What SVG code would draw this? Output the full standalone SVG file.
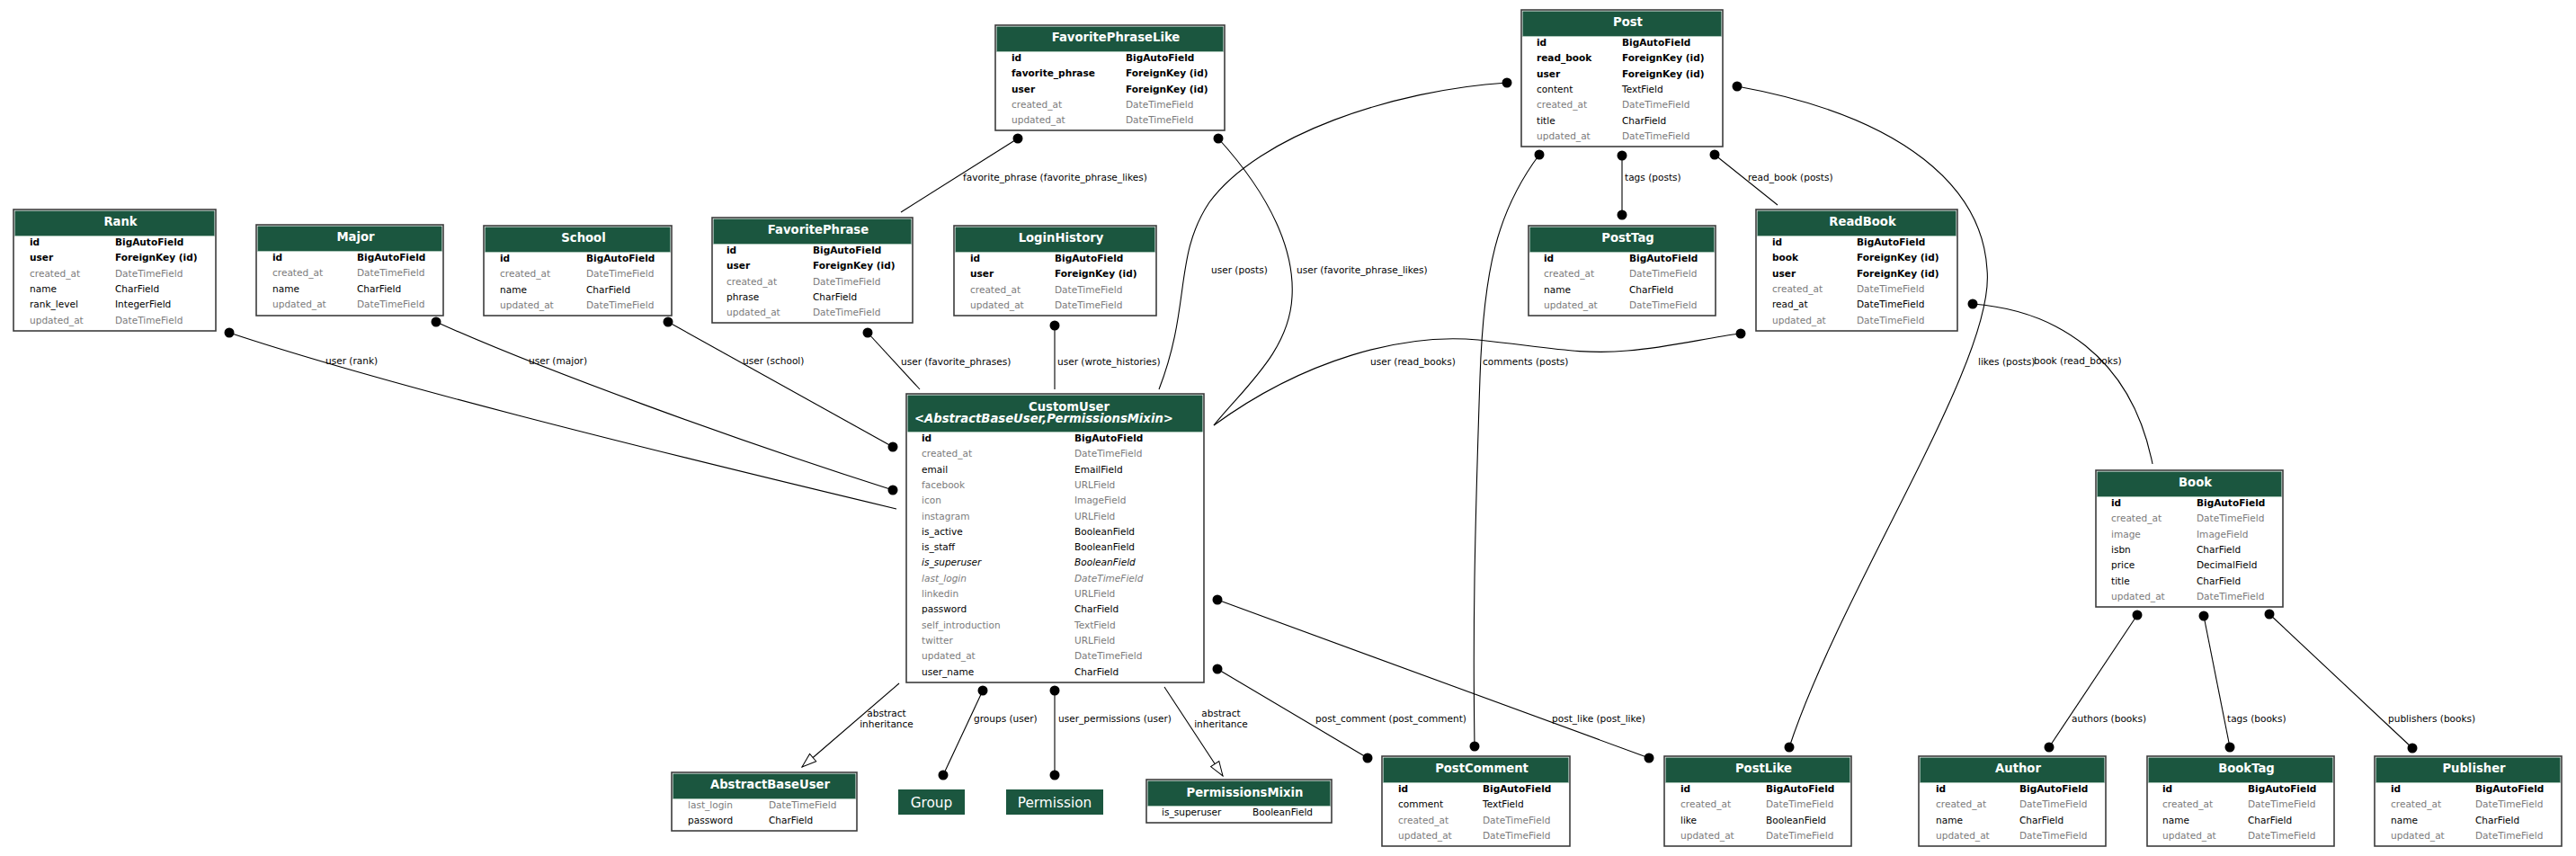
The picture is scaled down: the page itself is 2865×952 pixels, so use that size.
<svg xmlns="http://www.w3.org/2000/svg" width="2865" height="952" viewBox="0 0 2865 952">
<style>
text{font-family:"DejaVu Sans","Liberation Sans",sans-serif}
.t{font-size:13.2px;font-weight:bold;fill:#fff;text-anchor:middle}
.st{font-size:13.2px;font-weight:bold;font-style:italic;fill:#fff}
.r{font-size:10.56px;fill:#000}
.b{font-weight:bold}
.g{fill:#7b7b7b}
.i{font-style:italic}
.l{font-size:10.56px;fill:#000}
.lc{font-size:10.56px;fill:#000;text-anchor:middle}
.bx{fill:#fff;stroke:#3c3c3c;stroke-width:1.6}
.hd{fill:#1b563f}
.sep{stroke:#a9c4b6;stroke-width:1}
.pt{font-size:15.3px;fill:#fff;text-anchor:middle}
.e{fill:none;stroke:#000;stroke-width:1.1}
.m2{marker-start:url(#dot);marker-end:url(#dot)}
.fk{marker-start:url(#dot)}
.inh{marker-end:url(#tri)}
</style>
<defs>
<marker id="dot" viewBox="-6 -6 12 12" refX="0" refY="0" markerWidth="12" markerHeight="12" markerUnits="userSpaceOnUse"><circle r="5.5" fill="#000"/></marker>
<marker id="tri" viewBox="-1 -7 19 14" refX="16" refY="0" markerWidth="19" markerHeight="14" markerUnits="userSpaceOnUse" orient="auto"><path d="M0,-5.5 L16,0 L0,5.5 Z" fill="#fff" stroke="#000" stroke-width="1"/></marker>
</defs>
<rect width="2865" height="952" fill="#fff"/>

<g id="connectors">
<path class="e fk" d="M255,370 C420,425 700,495 997,566"/>
<path class="e m2" d="M485,358 C600,410 820,490 993,545"/>
<path class="e m2" d="M743,358 L993,497"/>
<path class="e fk" d="M965,370 L1023,433"/>
<path class="e fk" d="M1173,362 L1173,433"/>
<path class="e fk" d="M1676,92 C1550,100 1400,150 1345,225 C1305,285 1325,340 1289,433"/>
<path class="e fk" d="M1355,154 C1415,220 1440,280 1437,330 C1434,390 1385,430 1350,473"/>
<path class="e fk" d="M1132,154 L1002,236"/>
<path class="e m2" d="M1804,173 L1804,239"/>
<path class="e fk" d="M1907,172 L1977,228"/>
<path class="e fk" d="M1936,371 C1900,375 1860,386 1810,390 C1760,395 1720,386 1644,378 C1560,370 1450,400 1350,473"/>
<path class="e m2" d="M1712,172 C1665,235 1650,300 1646,420 C1640,600 1638,700 1640,830"/>
<path class="e m2" d="M1932,96 C2120,130 2205,210 2210,300 C2220,400 2050,650 1990,831"/>
<path class="e fk" d="M2194,338 C2285,345 2370,395 2394,516"/>
<path class="e m2" d="M2377,684 L2279,831"/>
<path class="e m2" d="M2451,685 L2480,831"/>
<path class="e m2" d="M2524,683 L2683,832"/>
<path class="e m2" d="M1354,744 L1521,843"/>
<path class="e m2" d="M1354,667 L1834,843"/>
<path class="e m2" d="M1093,768 L1049,862"/>
<path class="e m2" d="M1173,768 L1173,862"/>
<path class="e inh" d="M1000,760 L892,853"/>
<path class="e inh" d="M1295,764 L1360,863"/>
<text class="l" x="362" y="405">user (rank)</text>
<text class="l" x="588" y="405">user (major)</text>
<text class="l" x="826" y="405">user (school)</text>
<text class="l" x="1002" y="406">user (favorite_phrases)</text>
<text class="l" x="1176" y="406">user (wrote_histories)</text>
<text class="l" x="1347" y="304">user (posts)</text>
<text class="l" x="1442" y="304">user (favorite_phrase_likes)</text>
<text class="l" x="1071" y="201">favorite_phrase (favorite_phrase_likes)</text>
<text class="l" x="1807" y="201">tags (posts)</text>
<text class="l" x="1944" y="201">read_book (posts)</text>
<text class="l" x="1524" y="406">user (read_books)</text>
<text class="l" x="1649" y="406">comments (posts)</text>
<text class="l" x="2200" y="406">likes (posts)</text>
<text class="l" x="2262" y="405">book (read_books)</text>
<text class="lc" x="986" y="797">abstract</text>
<text class="lc" x="986" y="809">inheritance</text>
<text class="l" x="1083" y="803">groups (user)</text>
<text class="l" x="1177" y="803">user_permissions (user)</text>
<text class="lc" x="1358" y="797">abstract</text>
<text class="lc" x="1358" y="809">inheritance</text>
<text class="l" x="1463" y="803">post_comment (post_comment)</text>
<text class="l" x="1726" y="803">post_like (post_like)</text>
<text class="l" x="2304" y="803">authors (books)</text>
<text class="l" x="2477" y="803">tags (books)</text>
<text class="l" x="2656" y="803">publishers (books)</text>
</g>

<g id="Rank">
<rect class="bx" x="15" y="233" width="225" height="135"/>
<rect class="hd" x="16.5" y="234.5" width="222" height="28"/>
<line class="sep" x1="16.5" y1="262.5" x2="238.5" y2="262.5"/>
<text class="t" x="134" y="251">Rank</text>
<text class="r b" x="33" y="273">id</text><text class="r b" x="128" y="273">BigAutoField</text>
<text class="r b" x="33" y="290.3">user</text><text class="r b" x="128" y="290.3">ForeignKey (id)</text>
<text class="r g" x="33" y="307.6">created_at</text><text class="r g" x="128" y="307.6">DateTimeField</text>
<text class="r" x="33" y="324.9">name</text><text class="r" x="128" y="324.9">CharField</text>
<text class="r" x="33" y="342.2">rank_level</text><text class="r" x="128" y="342.2">IntegerField</text>
<text class="r g" x="33" y="359.5">updated_at</text><text class="r g" x="128" y="359.5">DateTimeField</text>
</g>

<g id="Major">
<rect class="bx" x="285" y="250" width="208" height="101"/>
<rect class="hd" x="286.5" y="251.5" width="205" height="28"/>
<line class="sep" x1="286.5" y1="279.5" x2="491.5" y2="279.5"/>
<text class="t" x="395.5" y="268">Major</text>
<text class="r b" x="303" y="290">id</text><text class="r b" x="397" y="290">BigAutoField</text>
<text class="r g" x="303" y="307.3">created_at</text><text class="r g" x="397" y="307.3">DateTimeField</text>
<text class="r" x="303" y="324.6">name</text><text class="r" x="397" y="324.6">CharField</text>
<text class="r g" x="303" y="341.9">updated_at</text><text class="r g" x="397" y="341.9">DateTimeField</text>
</g>

<g id="School">
<rect class="bx" x="538" y="251" width="209" height="100"/>
<rect class="hd" x="539.5" y="252.5" width="206" height="28"/>
<line class="sep" x1="539.5" y1="280.5" x2="745.5" y2="280.5"/>
<text class="t" x="649" y="269">School</text>
<text class="r b" x="556" y="291">id</text><text class="r b" x="652" y="291">BigAutoField</text>
<text class="r g" x="556" y="308.3">created_at</text><text class="r g" x="652" y="308.3">DateTimeField</text>
<text class="r" x="556" y="325.6">name</text><text class="r" x="652" y="325.6">CharField</text>
<text class="r g" x="556" y="342.9">updated_at</text><text class="r g" x="652" y="342.9">DateTimeField</text>
</g>

<g id="FavoritePhrase">
<rect class="bx" x="792" y="242" width="223" height="117"/>
<rect class="hd" x="793.5" y="243.5" width="220" height="28"/>
<line class="sep" x1="793.5" y1="271.5" x2="1013.5" y2="271.5"/>
<text class="t" x="910" y="260">FavoritePhrase</text>
<text class="r b" x="808" y="282">id</text><text class="r b" x="904" y="282">BigAutoField</text>
<text class="r b" x="808" y="299.3">user</text><text class="r b" x="904" y="299.3">ForeignKey (id)</text>
<text class="r g" x="808" y="316.6">created_at</text><text class="r g" x="904" y="316.6">DateTimeField</text>
<text class="r" x="808" y="333.9">phrase</text><text class="r" x="904" y="333.9">CharField</text>
<text class="r g" x="808" y="351.2">updated_at</text><text class="r g" x="904" y="351.2">DateTimeField</text>
</g>

<g id="FavoritePhraseLike">
<rect class="bx" x="1107" y="28" width="255" height="117"/>
<rect class="hd" x="1108.5" y="29.5" width="252" height="28"/>
<line class="sep" x1="1108.5" y1="57.5" x2="1360.5" y2="57.5"/>
<text class="t" x="1241" y="46">FavoritePhraseLike</text>
<text class="r b" x="1125" y="68">id</text><text class="r b" x="1252" y="68">BigAutoField</text>
<text class="r b" x="1125" y="85.3">favorite_phrase</text><text class="r b" x="1252" y="85.3">ForeignKey (id)</text>
<text class="r b" x="1125" y="102.6">user</text><text class="r b" x="1252" y="102.6">ForeignKey (id)</text>
<text class="r g" x="1125" y="119.9">created_at</text><text class="r g" x="1252" y="119.9">DateTimeField</text>
<text class="r g" x="1125" y="137.2">updated_at</text><text class="r g" x="1252" y="137.2">DateTimeField</text>
</g>

<g id="LoginHistory">
<rect class="bx" x="1061" y="251" width="225" height="100"/>
<rect class="hd" x="1062.5" y="252.5" width="222" height="28"/>
<line class="sep" x1="1062.5" y1="280.5" x2="1284.5" y2="280.5"/>
<text class="t" x="1180" y="269">LoginHistory</text>
<text class="r b" x="1079" y="291">id</text><text class="r b" x="1173" y="291">BigAutoField</text>
<text class="r b" x="1079" y="308.3">user</text><text class="r b" x="1173" y="308.3">ForeignKey (id)</text>
<text class="r g" x="1079" y="325.6">created_at</text><text class="r g" x="1173" y="325.6">DateTimeField</text>
<text class="r g" x="1079" y="342.9">updated_at</text><text class="r g" x="1173" y="342.9">DateTimeField</text>
</g>

<g id="Post">
<rect class="bx" x="1692" y="11" width="224" height="152"/>
<rect class="hd" x="1693.5" y="12.5" width="221" height="28"/>
<line class="sep" x1="1693.5" y1="40.5" x2="1914.5" y2="40.5"/>
<text class="t" x="1810.5" y="29">Post</text>
<text class="r b" x="1709" y="51">id</text><text class="r b" x="1804" y="51">BigAutoField</text>
<text class="r b" x="1709" y="68.3">read_book</text><text class="r b" x="1804" y="68.3">ForeignKey (id)</text>
<text class="r b" x="1709" y="85.6">user</text><text class="r b" x="1804" y="85.6">ForeignKey (id)</text>
<text class="r" x="1709" y="102.9">content</text><text class="r" x="1804" y="102.9">TextField</text>
<text class="r g" x="1709" y="120.2">created_at</text><text class="r g" x="1804" y="120.2">DateTimeField</text>
<text class="r" x="1709" y="137.5">title</text><text class="r" x="1804" y="137.5">CharField</text>
<text class="r g" x="1709" y="154.8">updated_at</text><text class="r g" x="1804" y="154.8">DateTimeField</text>
</g>

<g id="PostTag">
<rect class="bx" x="1700" y="251" width="208" height="100"/>
<rect class="hd" x="1701.5" y="252.5" width="205" height="28"/>
<line class="sep" x1="1701.5" y1="280.5" x2="1906.5" y2="280.5"/>
<text class="t" x="1810.5" y="269">PostTag</text>
<text class="r b" x="1717" y="291">id</text><text class="r b" x="1812" y="291">BigAutoField</text>
<text class="r g" x="1717" y="308.3">created_at</text><text class="r g" x="1812" y="308.3">DateTimeField</text>
<text class="r" x="1717" y="325.6">name</text><text class="r" x="1812" y="325.6">CharField</text>
<text class="r g" x="1717" y="342.9">updated_at</text><text class="r g" x="1812" y="342.9">DateTimeField</text>
</g>

<g id="ReadBook">
<rect class="bx" x="1953" y="233" width="224" height="135"/>
<rect class="hd" x="1954.5" y="234.5" width="221" height="28"/>
<line class="sep" x1="1954.5" y1="262.5" x2="2175.5" y2="262.5"/>
<text class="t" x="2071.5" y="251">ReadBook</text>
<text class="r b" x="1971" y="273">id</text><text class="r b" x="2065" y="273">BigAutoField</text>
<text class="r b" x="1971" y="290.3">book</text><text class="r b" x="2065" y="290.3">ForeignKey (id)</text>
<text class="r b" x="1971" y="307.6">user</text><text class="r b" x="2065" y="307.6">ForeignKey (id)</text>
<text class="r g" x="1971" y="324.9">created_at</text><text class="r g" x="2065" y="324.9">DateTimeField</text>
<text class="r" x="1971" y="342.2">read_at</text><text class="r" x="2065" y="342.2">DateTimeField</text>
<text class="r g" x="1971" y="359.5">updated_at</text><text class="r g" x="2065" y="359.5">DateTimeField</text>
</g>

<g id="CustomUser">
<rect class="bx" x="1008" y="438" width="331" height="321"/>
<rect class="hd" x="1009.5" y="439.5" width="328" height="40.5"/>
<line class="sep" x1="1009.5" y1="480.5" x2="1337.5" y2="480.5"/>
<text class="t" x="1189" y="456.5">CustomUser</text>
<text class="st" x="1017" y="469.5">&lt;AbstractBaseUser,PermissionsMixin&gt;</text>
<text class="r b" x="1025" y="491">id</text><text class="r b" x="1195" y="491">BigAutoField</text>
<text class="r g" x="1025" y="508.3">created_at</text><text class="r g" x="1195" y="508.3">DateTimeField</text>
<text class="r" x="1025" y="525.6">email</text><text class="r" x="1195" y="525.6">EmailField</text>
<text class="r g" x="1025" y="542.9">facebook</text><text class="r g" x="1195" y="542.9">URLField</text>
<text class="r g" x="1025" y="560.2">icon</text><text class="r g" x="1195" y="560.2">ImageField</text>
<text class="r g" x="1025" y="577.5">instagram</text><text class="r g" x="1195" y="577.5">URLField</text>
<text class="r" x="1025" y="594.8">is_active</text><text class="r" x="1195" y="594.8">BooleanField</text>
<text class="r" x="1025" y="612.1">is_staff</text><text class="r" x="1195" y="612.1">BooleanField</text>
<text class="r i" x="1025" y="629.4">is_superuser</text><text class="r i" x="1195" y="629.4">BooleanField</text>
<text class="r g i" x="1025" y="646.7">last_login</text><text class="r g i" x="1195" y="646.7">DateTimeField</text>
<text class="r g" x="1025" y="664">linkedin</text><text class="r g" x="1195" y="664">URLField</text>
<text class="r" x="1025" y="681.3">password</text><text class="r" x="1195" y="681.3">CharField</text>
<text class="r g" x="1025" y="698.6">self_introduction</text><text class="r g" x="1195" y="698.6">TextField</text>
<text class="r g" x="1025" y="715.9">twitter</text><text class="r g" x="1195" y="715.9">URLField</text>
<text class="r g" x="1025" y="733.2">updated_at</text><text class="r g" x="1195" y="733.2">DateTimeField</text>
<text class="r" x="1025" y="750.5">user_name</text><text class="r" x="1195" y="750.5">CharField</text>
</g>

<g id="Book">
<rect class="bx" x="2331" y="523" width="208" height="152"/>
<rect class="hd" x="2332.5" y="524.5" width="205" height="28"/>
<line class="sep" x1="2332.5" y1="552.5" x2="2537.5" y2="552.5"/>
<text class="t" x="2441.5" y="541">Book</text>
<text class="r b" x="2348" y="563">id</text><text class="r b" x="2443" y="563">BigAutoField</text>
<text class="r g" x="2348" y="580.3">created_at</text><text class="r g" x="2443" y="580.3">DateTimeField</text>
<text class="r g" x="2348" y="597.6">image</text><text class="r g" x="2443" y="597.6">ImageField</text>
<text class="r" x="2348" y="614.9">isbn</text><text class="r" x="2443" y="614.9">CharField</text>
<text class="r" x="2348" y="632.2">price</text><text class="r" x="2443" y="632.2">DecimalField</text>
<text class="r" x="2348" y="649.5">title</text><text class="r" x="2443" y="649.5">CharField</text>
<text class="r g" x="2348" y="666.8">updated_at</text><text class="r g" x="2443" y="666.8">DateTimeField</text>
</g>

<g id="PostComment">
<rect class="bx" x="1537" y="841" width="209" height="100"/>
<rect class="hd" x="1538.5" y="842.5" width="206" height="28"/>
<line class="sep" x1="1538.5" y1="870.5" x2="1744.5" y2="870.5"/>
<text class="t" x="1648" y="859">PostComment</text>
<text class="r b" x="1555" y="881">id</text><text class="r b" x="1649" y="881">BigAutoField</text>
<text class="r" x="1555" y="898.3">comment</text><text class="r" x="1649" y="898.3">TextField</text>
<text class="r g" x="1555" y="915.6">created_at</text><text class="r g" x="1649" y="915.6">DateTimeField</text>
<text class="r g" x="1555" y="932.9">updated_at</text><text class="r g" x="1649" y="932.9">DateTimeField</text>
</g>

<g id="PostLike">
<rect class="bx" x="1851" y="841" width="208" height="100"/>
<rect class="hd" x="1852.5" y="842.5" width="205" height="28"/>
<line class="sep" x1="1852.5" y1="870.5" x2="2057.5" y2="870.5"/>
<text class="t" x="1961.5" y="859">PostLike</text>
<text class="r b" x="1869" y="881">id</text><text class="r b" x="1964" y="881">BigAutoField</text>
<text class="r g" x="1869" y="898.3">created_at</text><text class="r g" x="1964" y="898.3">DateTimeField</text>
<text class="r" x="1869" y="915.6">like</text><text class="r" x="1964" y="915.6">BooleanField</text>
<text class="r g" x="1869" y="932.9">updated_at</text><text class="r g" x="1964" y="932.9">DateTimeField</text>
</g>

<g id="Author">
<rect class="bx" x="2134" y="841" width="208" height="100"/>
<rect class="hd" x="2135.5" y="842.5" width="205" height="28"/>
<line class="sep" x1="2135.5" y1="870.5" x2="2340.5" y2="870.5"/>
<text class="t" x="2244.5" y="859">Author</text>
<text class="r b" x="2153" y="881">id</text><text class="r b" x="2246" y="881">BigAutoField</text>
<text class="r g" x="2153" y="898.3">created_at</text><text class="r g" x="2246" y="898.3">DateTimeField</text>
<text class="r" x="2153" y="915.6">name</text><text class="r" x="2246" y="915.6">CharField</text>
<text class="r g" x="2153" y="932.9">updated_at</text><text class="r g" x="2246" y="932.9">DateTimeField</text>
</g>

<g id="BookTag">
<rect class="bx" x="2388" y="841" width="208" height="100"/>
<rect class="hd" x="2389.5" y="842.5" width="205" height="28"/>
<line class="sep" x1="2389.5" y1="870.5" x2="2594.5" y2="870.5"/>
<text class="t" x="2498.5" y="859">BookTag</text>
<text class="r b" x="2405" y="881">id</text><text class="r b" x="2500" y="881">BigAutoField</text>
<text class="r g" x="2405" y="898.3">created_at</text><text class="r g" x="2500" y="898.3">DateTimeField</text>
<text class="r" x="2405" y="915.6">name</text><text class="r" x="2500" y="915.6">CharField</text>
<text class="r g" x="2405" y="932.9">updated_at</text><text class="r g" x="2500" y="932.9">DateTimeField</text>
</g>

<g id="Publisher">
<rect class="bx" x="2641" y="841" width="208" height="100"/>
<rect class="hd" x="2642.5" y="842.5" width="205" height="28"/>
<line class="sep" x1="2642.5" y1="870.5" x2="2847.5" y2="870.5"/>
<text class="t" x="2751.5" y="859">Publisher</text>
<text class="r b" x="2659" y="881">id</text><text class="r b" x="2753" y="881">BigAutoField</text>
<text class="r g" x="2659" y="898.3">created_at</text><text class="r g" x="2753" y="898.3">DateTimeField</text>
<text class="r" x="2659" y="915.6">name</text><text class="r" x="2753" y="915.6">CharField</text>
<text class="r g" x="2659" y="932.9">updated_at</text><text class="r g" x="2753" y="932.9">DateTimeField</text>
</g>

<g id="AbstractBaseUser">
<rect class="bx" x="747" y="859" width="206" height="65"/>
<rect class="hd" x="748.5" y="860.5" width="203" height="28"/>
<line class="sep" x1="748.5" y1="888.5" x2="951.5" y2="888.5"/>
<text class="t" x="856.5" y="877">AbstractBaseUser</text>
<text class="r g" x="765" y="899">last_login</text><text class="r g" x="855" y="899">DateTimeField</text>
<text class="r" x="765" y="916.3">password</text><text class="r" x="855" y="916.3">CharField</text>
</g>

<g id="PermissionsMixin">
<rect class="bx" x="1275" y="867" width="206" height="48"/>
<rect class="hd" x="1276.5" y="868.5" width="203" height="28"/>
<line class="sep" x1="1276.5" y1="896.5" x2="1479.5" y2="896.5"/>
<text class="t" x="1384.5" y="885.5">PermissionsMixin</text>
<text class="r" x="1292" y="907">is_superuser</text><text class="r" x="1393" y="907">BooleanField</text>
</g>

<g id="Group">
<rect class="hd" x="999" y="878" width="74" height="28"/>
<text class="pt" x="1036" y="897.5">Group</text>
</g>

<g id="Permission">
<rect class="hd" x="1119" y="878" width="108" height="28"/>
<text class="pt" x="1173" y="897.5">Permission</text>
</g>
</svg>
